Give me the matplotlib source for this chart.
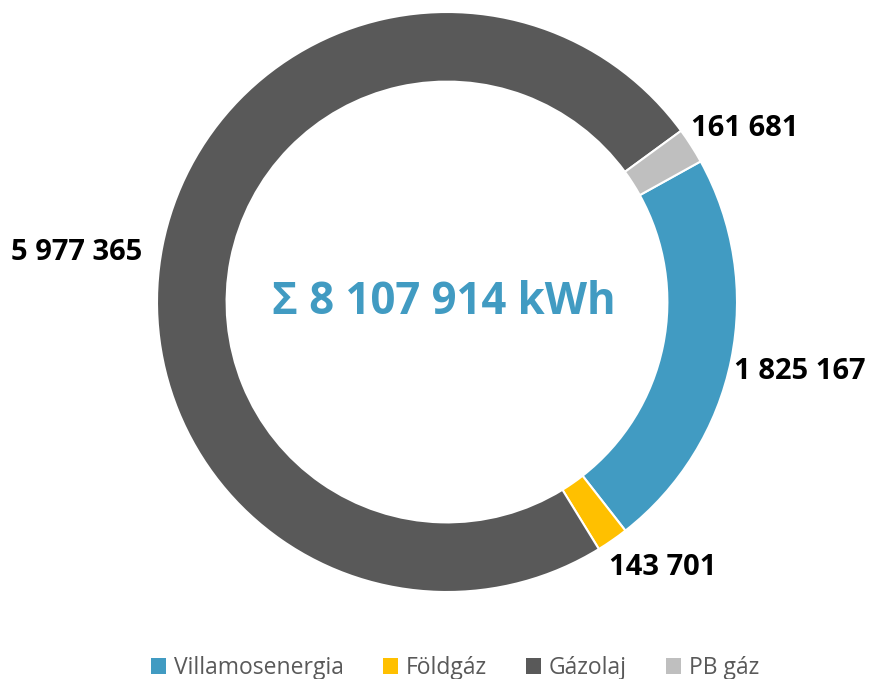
import matplotlib
matplotlib.use("Agg")
import matplotlib.pyplot as plt
from matplotlib.patches import Patch

plt.rcParams['font.family'] = ['Open Sans', 'DejaVu Sans']

categories = ['Villamosenergia', 'Földgáz', 'Gázolaj', 'PB gáz']
values = [1825167, 143701, 5977365, 161681]
labels = ['1 825 167', '143 701', '5 977 365', '161 681']
colors = ['#419bc2', '#ffc000', '#595959', '#bfbfbf']
total_text = 'Σ 8 107 914 kWh'

# label positions in data units (radius = 1)
label_pos = [(1.217, -0.241), (0.745, -0.917), (-1.276, 0.169), (1.028, 0.60)]

fig = plt.figure(figsize=(8.75, 6.79), dpi=100)
ax = fig.add_axes([147/875, 1 - 602/679, 600/875, 600/679])

ax.pie(values, colors=colors, startangle=29, counterclock=False, radius=1,
       wedgeprops=dict(width=0.24, edgecolor='white', linewidth=1.5))

for (x, y), t in zip(label_pos, labels):
    ax.text(x, y, t, ha='center', va='center', fontsize=21, fontweight='bold', color='black')

ax.text(-0.01, 0.0, total_text, ha='center', va='center', fontsize=31.5,
        fontweight='bold', color='#419bc2')

lim = 300 / 290
ax.set_xlim(-lim, lim)
ax.set_ylim(-lim, lim)
ax.set_aspect('equal')
ax.axis('off')

handles = [Patch(facecolor=c, edgecolor='none') for c in colors]
fig.legend(handles, categories, loc='center', bbox_to_anchor=(455/875, 1 - 668/679),
           ncol=4, frameon=False, fontsize=16.5, labelcolor='#595959',
           handlelength=0.65, handleheight=0.65, handletextpad=0.35, columnspacing=1.7)

fig.savefig('out.png', dpi=100)
